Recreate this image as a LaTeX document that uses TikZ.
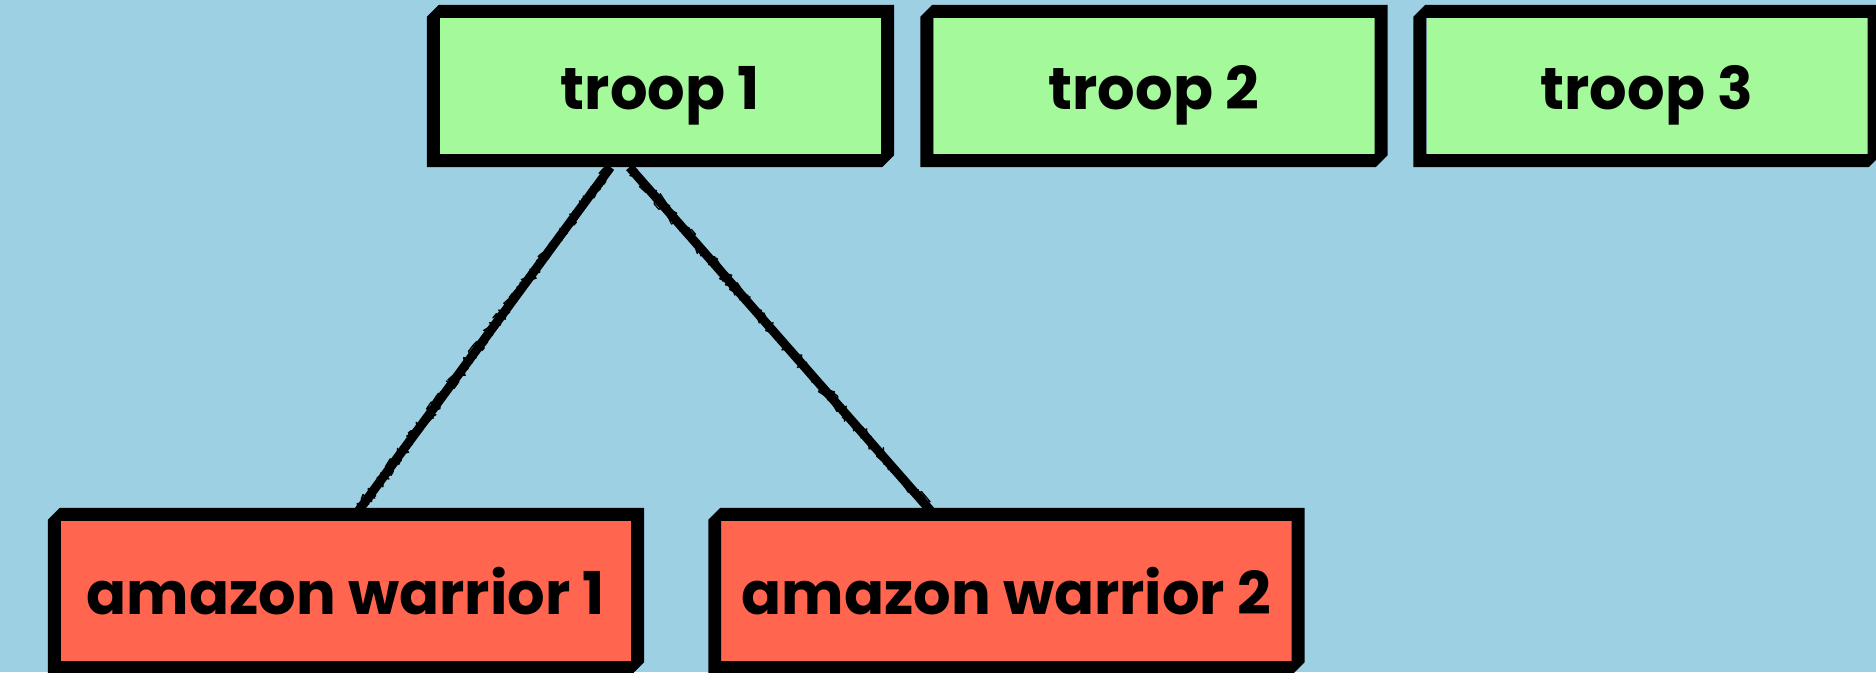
\documentclass[tikz,border=0pt]{standalone}
\usepackage{fontspec}
\newfontfamily\labelfont{Poppins}
\usetikzlibrary{calc,decorations.pathmorphing}

\definecolor{skyblue}{RGB}{158,208,227}
\definecolor{troopgreen}{RGB}{164,249,154}
\definecolor{warriorred}{RGB}{255,101,79}

% black frame with cut top-left and bottom-right corners around a node
\newcommand\chamframe[1]{%
  \fill[black,even odd rule]
    ($(#1.north west)+(-13,-1)$) -- ($(#1.north west)+(-1,-13)$)
    -- ($(#1.north east)+(13,-13)$) -- ($(#1.south east)+(13,1)$)
    -- ($(#1.south east)+(1,13)$) -- ($(#1.south west)+(-13,13)$) -- cycle
    (#1.north west) rectangle (#1.south east);}

\tikzset{
  labelbox/.style={rectangle, inner sep=0pt, text height=47.5pt, text depth=0pt,
    font=\labelfont\bfseries\fontsize{59}{59}\selectfont, text=black},
  troopbox/.style={labelbox, fill=troopgreen, minimum width=441pt, minimum height=136pt},
  warriorbox/.style={labelbox, fill=warriorred, minimum width=570pt, minimum height=140pt},
  linkcore/.style={draw=black, line width=9pt, line cap=butt},
  linkgrain/.style={draw=black, line width=1.3pt, line join=round,
    decorate, decoration={random steps, segment length=3pt, amplitude=6pt}}
}

\begin{document}
\begin{tikzpicture}[x=1pt,y=-1pt]
  \pgfmathsetseed{11}
  \fill[skyblue] (0,0) rectangle (1876,672);
  \useasboundingbox (0,0) rectangle (1876,672);

  % troops
  \node[troopbox] (t1) at (660.5,86) {troop 1};
  \node[troopbox] (t2) at (1154,86) {troop 2};
  \node[troopbox] (t3) at (1647,86) {troop 3};

  % warriors
  \node[warriorbox] (w1) at (346,591) {amazon warrior 1};
  \node[warriorbox] (w2) at (1006.5,591) {amazon warrior 2};

  % hand-drawn connectors: a solid core with grainy strokes over it
  \draw[linkcore] ($(t1.south)+(-50,13)$) -- ($(w1.north)+(11,-8)$);
  \draw[linkgrain] ($(t1.south)+(-50,13)$) -- ($(w1.north)+(11,-8)$);
  \draw[linkgrain] ($(t1.south)+(-50,13)$) -- ($(w1.north)+(11,-8)$);
  \draw[linkcore] ($(t1.south)+(-31,13)$) -- ($(w2.north)+(-74,-8)$);
  \draw[linkgrain] ($(t1.south)+(-31,13)$) -- ($(w2.north)+(-74,-8)$);
  \draw[linkgrain] ($(t1.south)+(-31,13)$) -- ($(w2.north)+(-74,-8)$);

  \chamframe{t1}
  \chamframe{t2}
  \chamframe{t3}
  \chamframe{w1}
  \chamframe{w2}
\end{tikzpicture}
\end{document}
